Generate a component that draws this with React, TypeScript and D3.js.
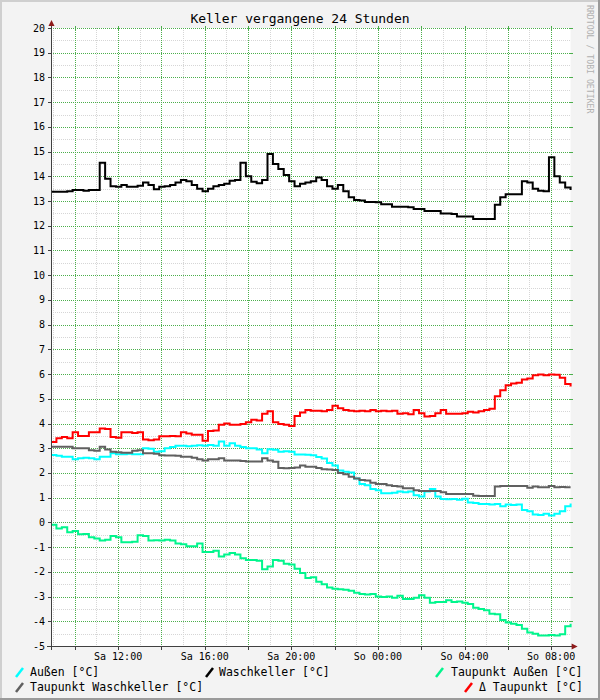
import React from 'react';
import * as d3 from 'd3';

const W = 600;
const H = 700;
const START = new Date(2024, 0, 6, 8, 54); // Saturday
const STEP_MIN = 15;
const DAYS = ['So', 'Mo', 'Di', 'Mi', 'Do', 'Fr', 'Sa'];
const TITLE = 'Keller vergangene 24 Stunden';
const WATERMARK = 'RRDTOOL / TOBI OETIKER';

const aussen = [
  2.73, 2.7, 2.66, 2.66, 2.55, 2.6, 2.62, 2.6, 2.55, 2.66,
  2.66, 2.8, 2.76, 2.76, 2.78, 2.76, 2.76, 3.0, 2.98, 2.86,
  2.88, 3.0, 3.05, 3.1, 3.1, 3.08, 3.1, 3.12, 3.1, 3.13,
  3.1, 3.27, 3.1, 3.2, 3.1, 3.05, 3.0, 3.0, 2.95, 2.8,
  2.96, 2.94, 2.86, 2.88, 2.86, 2.75, 2.75, 2.74, 2.72, 2.65,
  2.58, 2.4, 2.3, 2.1, 2.05, 2.02, 1.78, 1.55, 1.5, 1.35,
  1.3, 1.18, 1.18, 1.2, 1.25, 1.22, 1.25, 1.1, 1.05, 1.25,
  1.35, 1.05, 0.95, 0.94, 0.95, 0.92, 0.96, 0.8, 0.78, 0.74,
  0.74, 0.72, 0.74, 0.65, 0.72, 0.7, 0.72, 0.5, 0.45, 0.32,
  0.3, 0.35, 0.28, 0.35, 0.45, 0.65, 0.76,
];

const waschkeller = [
  13.38, 13.38, 13.38, 13.4, 13.45, 13.45, 13.42, 13.45, 13.45, 14.55,
  13.9, 13.6, 13.58, 13.65, 13.58, 13.58, 13.62, 13.75, 13.65, 13.48,
  13.58, 13.6, 13.65, 13.75, 13.85, 13.8, 13.65, 13.5, 13.4, 13.5,
  13.6, 13.65, 13.7, 13.82, 13.85, 14.55, 14.0, 13.78, 13.72, 13.85,
  14.9, 14.5, 14.3, 14.05, 13.8, 13.6, 13.7, 13.75, 13.8, 13.95,
  13.85, 13.6, 13.5, 13.65, 13.4, 13.15, 13.04, 13.02, 12.96, 12.96,
  12.95, 12.87, 12.87, 12.77, 12.77, 12.77, 12.75, 12.68, 12.68, 12.6,
  12.6, 12.6, 12.5, 12.5, 12.48, 12.37, 12.37, 12.37, 12.27, 12.27,
  12.27, 12.27, 12.85, 13.15, 13.27, 13.27, 13.27, 13.8, 13.75, 13.5,
  13.42, 13.4, 14.77, 14.0, 13.75, 13.55, 13.45,
];

const taupunktAussen = [
  -0.1, -0.25, -0.2, -0.4, -0.35, -0.48, -0.47, -0.6, -0.65, -0.73,
  -0.7, -0.55, -0.6, -0.8, -0.8, -0.78, -0.52, -0.55, -0.73, -0.72,
  -0.73, -0.7, -0.73, -0.85, -0.88, -0.96, -0.96, -0.85, -1.2, -1.2,
  -1.15, -1.38, -1.3, -1.24, -1.3, -1.45, -1.52, -1.52, -1.55, -1.9,
  -1.78, -1.52, -1.55, -1.67, -1.7, -1.88, -2.05, -2.25, -2.22, -2.4,
  -2.5, -2.63, -2.68, -2.7, -2.72, -2.77, -2.85, -2.9, -2.92, -2.9,
  -3.0, -3.02, -3.0, -3.05, -2.97, -3.1, -3.1, -3.05, -2.95, -3.05,
  -3.25, -3.22, -3.22, -3.15, -3.22, -3.2, -3.25, -3.3, -3.45, -3.5,
  -3.55, -3.7, -3.72, -3.95, -4.05, -4.1, -4.15, -4.3, -4.45, -4.5,
  -4.58, -4.58, -4.55, -4.58, -4.52, -4.2, -4.1,
];

const taupunktWaschkeller = [
  3.06, 3.06, 3.06, 3.06, 3.0, 3.0, 3.0, 2.92, 2.9, 3.06,
  2.95, 2.86, 2.84, 2.82, 2.82, 2.9, 2.92, 2.8, 2.8, 2.78,
  2.72, 2.71, 2.71, 2.7, 2.66, 2.66, 2.62, 2.55, 2.5, 2.55,
  2.55, 2.6, 2.5, 2.5, 2.5, 2.48, 2.46, 2.46, 2.46, 2.6,
  2.5, 2.45, 2.2, 2.19, 2.2, 2.22, 2.3, 2.25, 2.25, 2.2,
  2.15, 2.14, 2.12, 2.0, 1.95, 1.85, 1.78, 1.72, 1.69, 1.6,
  1.55, 1.55, 1.5, 1.47, 1.45, 1.38, 1.38, 1.3, 1.27, 1.27,
  1.27, 1.27, 1.22, 1.15, 1.15, 1.15, 1.15, 1.15, 1.08, 1.07,
  1.07, 1.07, 1.45, 1.47, 1.47, 1.47, 1.47, 1.47, 1.4, 1.45,
  1.42, 1.42, 1.47, 1.42, 1.43, 1.42, 1.42,
];

const deltaTaupunkt = [
  3.25, 3.4, 3.45, 3.4, 3.65, 3.5, 3.5, 3.65, 3.65, 3.8,
  3.78, 3.45, 3.42, 3.65, 3.65, 3.62, 3.65, 3.35, 3.32, 3.35,
  3.48, 3.48, 3.5, 3.48, 3.65, 3.6, 3.55, 3.55, 3.3, 3.7,
  3.72, 3.95, 4.0, 3.95, 3.95, 3.98, 4.05, 4.15, 4.12, 4.4,
  4.5, 4.05, 3.98, 3.95, 3.9, 4.3, 4.45, 4.55, 4.52, 4.52,
  4.5, 4.55, 4.72, 4.62, 4.55, 4.52, 4.5, 4.52, 4.5, 4.55,
  4.5, 4.52, 4.5, 4.52, 4.4, 4.42, 4.38, 4.55, 4.42, 4.28,
  4.3, 4.42, 4.55, 4.4, 4.4, 4.4, 4.42, 4.48, 4.45, 4.5,
  4.55, 4.6, 5.1, 5.35, 5.55, 5.62, 5.65, 5.78, 5.82, 5.95,
  5.98, 5.95, 5.98, 5.97, 5.85, 5.6, 5.5,
];

const seriesNames = [
  'Außen [°C]',
  'Waschkeller [°C]',
  'Taupunkt Außen [°C]',
  'Taupunkt Waschkeller [°C]',
  'Δ Taupunkt [°C]',
];
const seriesColors = ['#00FFFF', '#000000', '#00F58C', '#606060', '#FF0000'];
const seriesValues = [aussen, waschkeller, taupunktAussen, taupunktWaschkeller, deltaTaupunkt];

const FONT = '"DejaVu Sans Mono", monospace';
const GREEN = '#4CAF4C';
const MINOR = '#D6D6D6';

export default function App() {
  const left = 51;
  const right = 570.6;
  const top = 28;
  const bottom = 646;

  const end = new Date(START.getTime() + 24 * 3600 * 1000);
  const x = d3.scaleTime().domain([START, end]).range([left, right]);
  const y = d3.scaleLinear().domain([-5, 20]).range([bottom, top]);

  const times = aussen.map((_, i) => new Date(START.getTime() + i * STEP_MIN * 60 * 1000));
  const line = d3
    .line<number>()
    .x((_, i) => x(times[i]))
    .y((d) => y(d))
    .curve(d3.curveStepAfter);

  const hourTicks = x.ticks(d3.timeHour.every(1) as any);
  const minorX = hourTicks.filter((d) => d.getHours() % 2 !== 0);
  const majorX = hourTicks.filter((d) => d.getHours() % 2 === 0);
  const labelX = hourTicks.filter((d) => d.getHours() % 4 === 0);
  const fmt = d3.timeFormat('%H:%M');
  const majorY = d3.range(-5, 21, 1);
  const minorY = d3.range(-4.5, 20, 1);
  const px = (v: number) => Math.round(v) + 0.5;

  const legendItems = [
    { i: 0, mx: 15, tx: 30, ty: 676 },
    { i: 1, mx: 205, tx: 219, ty: 676 },
    { i: 2, mx: 435, tx: 451, ty: 676 },
    { i: 3, mx: 15, tx: 30, ty: 691 },
    { i: 4, mx: 464, tx: 479, ty: 691 },
  ];

  return (
    <svg
      width={W}
      height={H}
      style={{ position: 'absolute', left: 0, top: 0, display: 'block' }}
      fontFamily={FONT}
    >
      <rect x={0} y={0} width={W} height={H} fill="#F3F3F3" />
      <line x1={0} y1={1} x2={W} y2={1} stroke="#CFCFCF" strokeWidth={2} />
      <line x1={1} y1={0} x2={1} y2={H} stroke="#CFCFCF" strokeWidth={2} />
      <line x1={0} y1={H - 1} x2={W} y2={H - 1} stroke="#9A9A9A" strokeWidth={2} />
      <line x1={W - 1} y1={0} x2={W - 1} y2={H} stroke="#9A9A9A" strokeWidth={2} />

      <text x={300} y={23} textAnchor="middle" fontSize={13} fill="#000">
        {TITLE}
      </text>
      <text transform="translate(587,5) rotate(90)" fontSize={8.2} fill="#B0B0B0" textAnchor="start">
        {WATERMARK}
      </text>

      <rect x={left} y={top} width={right - left} height={bottom - top} fill="#FFFFFF" />

      <g shapeRendering="crispEdges">
        {minorX.map((d, i) => (
          <line key={'mvx' + i} x1={px(x(d))} x2={px(x(d))} y1={top} y2={bottom} stroke={MINOR} strokeDasharray="1 1" />
        ))}
        {minorY.map((v, i) => (
          <line key={'mhy' + i} x1={left} x2={right} y1={px(y(v))} y2={px(y(v))} stroke={MINOR} strokeDasharray="1 1" />
        ))}
        {majorX.map((d, i) => (
          <g key={'Mvx' + i}>
            <line x1={px(x(d))} x2={px(x(d))} y1={top} y2={bottom} stroke={GREEN} strokeDasharray="1 1" />
            <line x1={px(x(d))} x2={px(x(d))} y1={top - 2} y2={top + 2} stroke={GREEN} />
          </g>
        ))}
        {majorY.map((v, i) => (
          <g key={'Mhy' + i}>
            <line x1={left} x2={right} y1={px(y(v))} y2={px(y(v))} stroke={GREEN} strokeDasharray="1 1" />
            <line x1={right - 2} x2={right + 2} y1={px(y(v))} y2={px(y(v))} stroke={GREEN} />
          </g>
        ))}
      </g>

      {seriesValues.map((vals, i) => (
        <path key={'s' + i} d={line(vals) || ''} fill="none" stroke={seriesColors[i]} strokeWidth={2} />
      ))}

      <g shapeRendering="crispEdges">
        <line x1={left + 0.5} x2={left + 0.5} y1={bottom + 4} y2={top - 4} stroke="#404040" />
        <line x1={left - 4} x2={right + 2} y1={bottom + 0.5} y2={bottom + 0.5} stroke="#404040" />
        {majorY.map((v, i) => (
          <line key={'ty' + i} x1={left - 3} x2={left} y1={px(y(v))} y2={px(y(v))} stroke="#404040" />
        ))}
        {majorX.map((d, i) => (
          <line key={'tx' + i} x1={px(x(d))} x2={px(x(d))} y1={bottom} y2={bottom + 4} stroke="#404040" />
        ))}
      </g>
      <polygon points={`${left - 2.5},${top - 2} ${left + 3.5},${top - 2} ${left + 0.5},${top - 8}`} fill="#8E1B1B" />
      <polygon
        points={`${right + 1},${bottom - 2.5} ${right + 1},${bottom + 3.5} ${right + 7},${bottom + 0.5}`}
        fill="#8E1B1B"
      />

      {majorY.map((v, i) => (
        <text key={'ly' + i} x={45} y={y(v)} dy="0.35em" textAnchor="end" fontSize={10} fill="#000">
          {v}
        </text>
      ))}
      {labelX.map((d, i) => (
        <text key={'lx' + i} x={x(d)} y={660} textAnchor="middle" fontSize={10} fill="#000">
          {DAYS[d.getDay()] + ' ' + fmt(d)}
        </text>
      ))}

      {legendItems.map((it) => (
        <g key={'lg' + it.i}>
          <line x1={it.mx + 1} y1={it.ty + 1} x2={it.mx + 8} y2={it.ty - 8} stroke={seriesColors[it.i]} strokeWidth={2.5} />
          <text x={it.tx} y={it.ty} fontSize={11.5} fill="#000">
            {seriesNames[it.i]}
          </text>
        </g>
      ))}
    </svg>
  );
}
